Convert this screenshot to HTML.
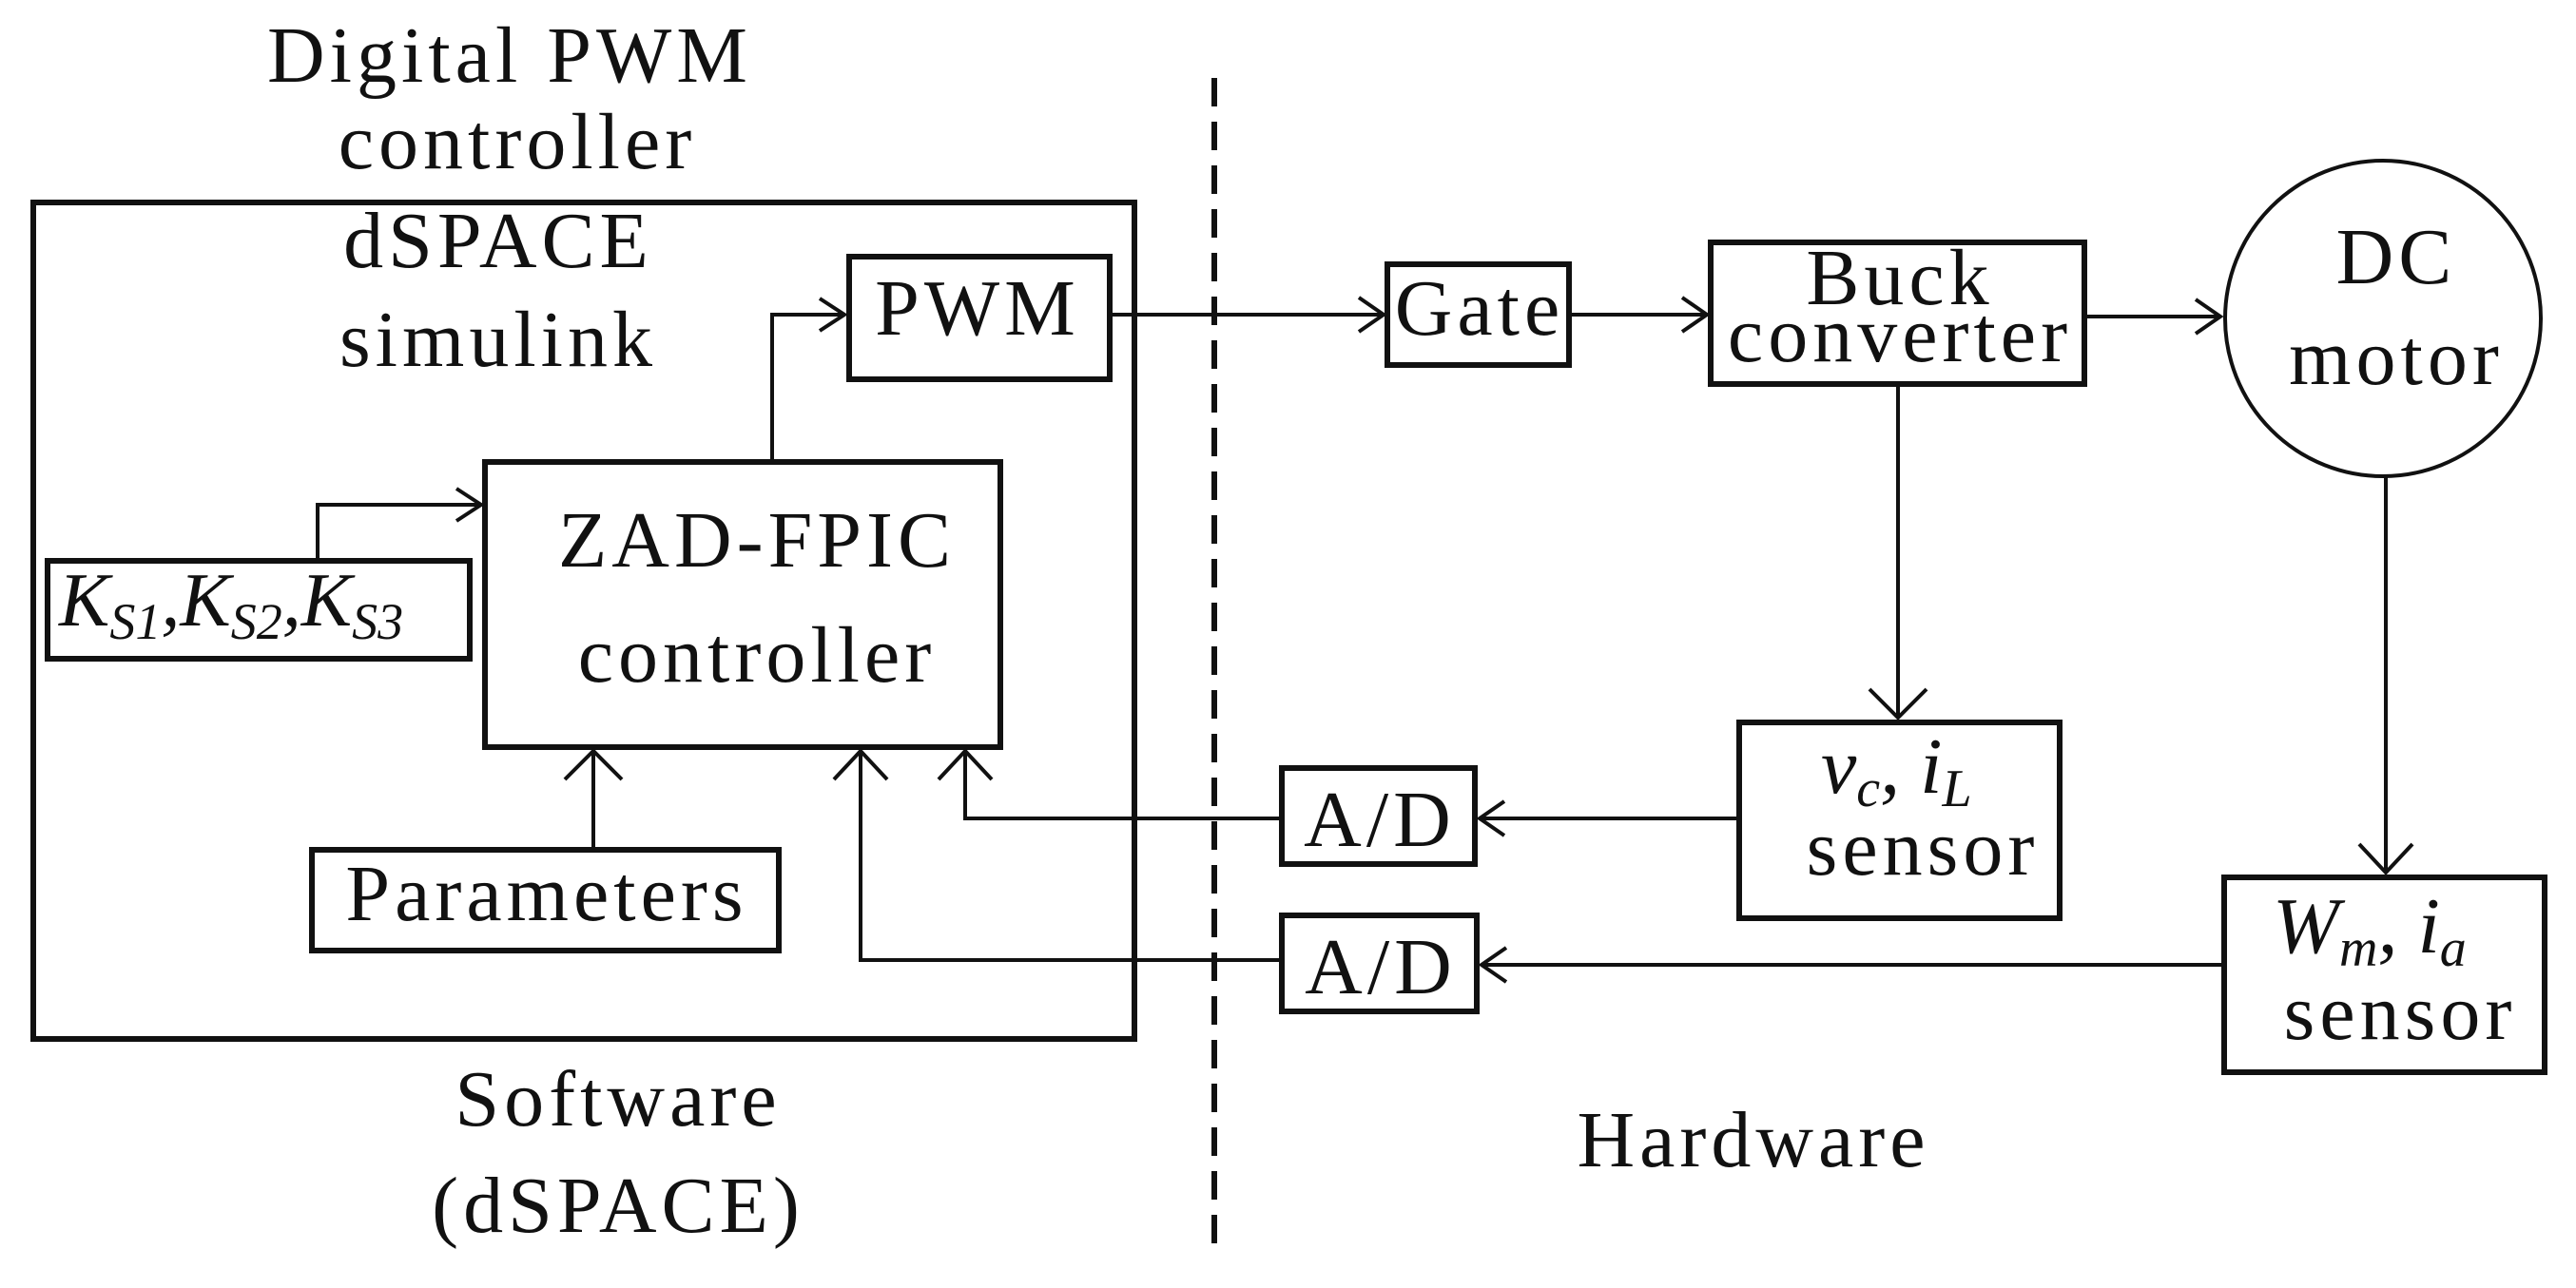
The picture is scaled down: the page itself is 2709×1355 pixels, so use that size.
<!DOCTYPE html>
<html><head><meta charset="utf-8"><style>
html,body{margin:0;padding:0;background:#fff;}
svg{display:block;}
text{font-family:"Liberation Serif",serif;fill:#111;}
</style></head><body>
<svg width="2709" height="1355" viewBox="0 0 2709 1355" xmlns="http://www.w3.org/2000/svg">
<g fill="none" stroke="#111" stroke-width="6">
<rect x="35" y="213" width="1158" height="880"/>
<rect x="893" y="270" width="274" height="129"/>
<rect x="510" y="486" width="542" height="300"/>
<rect x="50" y="590" width="444" height="103"/>
<rect x="328" y="894" width="491" height="106"/>
<rect x="1348" y="808" width="203" height="101"/>
<rect x="1348" y="963" width="205" height="101"/>
<rect x="1459" y="278" width="191" height="106"/>
<rect x="1799" y="255" width="393" height="149"/>
<rect x="1829" y="760" width="337" height="206"/>
<rect x="2339" y="923" width="337" height="205"/>
<circle cx="2506" cy="335" r="166" stroke-width="4"/>
</g>
<line x1="1277" y1="82" x2="1277" y2="1322" stroke="#111" stroke-width="6" stroke-dasharray="30,16"/>
<g fill="none" stroke="#111" stroke-width="4" stroke-linejoin="miter">
<polyline points="334,590 334,531 505,531"/>
<polyline points="480,514 506,531 480,548"/>
<polyline points="812,486 812,331 888,331"/>
<polyline points="862,314 888,331 862,348"/>
<line x1="624" y1="894" x2="624" y2="790"/>
<polyline points="594,820 624,790 654,820"/>
<line x1="1167" y1="331" x2="1455" y2="331"/>
<polyline points="1429,313 1455,331 1429,349"/>
<line x1="1650" y1="331" x2="1795" y2="331"/>
<polyline points="1769,313 1795,331 1769,349"/>
<line x1="2192" y1="333" x2="2335" y2="333"/>
<polyline points="2309,315 2335,333 2309,351"/>
<line x1="1996" y1="404" x2="1996" y2="755"/>
<polyline points="1966,725 1996,755 2026,725"/>
<line x1="2509" y1="501" x2="2509" y2="918"/>
<polyline points="2481,888 2509,918 2537,888"/>
<line x1="1829" y1="861" x2="1556" y2="861"/>
<polyline points="1582,843 1556,861 1582,879"/>
<line x1="2339" y1="1015" x2="1558" y2="1015"/>
<polyline points="1584,997 1558,1015 1584,1033"/>
<polyline points="1348,861 1015,861 1015,790"/>
<polyline points="987,820 1015,790 1043,820"/>
<polyline points="1348,1010 905,1010 905,790"/>
<polyline points="877,820 905,790 933,820"/>
</g>
<g font-size="84" text-anchor="middle" letter-spacing="5">
<text x="536" y="86">Digital PWM</text>
<text x="544" y="177">controller</text>
<text x="524" y="281">dSPACE</text>
<text x="524" y="385">simulink</text>
<text x="1028" y="352">PWM</text>
<text x="796" y="596">ZAD-FPIC</text>
<text x="796" y="717">controller</text>
<text x="575" y="968">Parameters</text>
<text x="650" y="1184">Software</text>
<text x="650" y="1296">(dSPACE)</text>
<text x="1451" y="890">A/D</text>
<text x="1452" y="1045">A/D</text>
<text x="1556" y="352">Gate</text>
<text x="1998" y="320">Buck</text>
<text x="1998" y="380">converter</text>
<text x="2520" y="298">DC</text>
<text x="2520" y="404">motor</text>
<text x="2022" y="920">sensor</text>
<text x="2524" y="1093">sensor</text>
<text x="1844" y="1227">Hardware</text>
</g>
<text x="62" y="658" font-size="80" font-style="italic">K<tspan font-size="54" dy="14">S1</tspan><tspan dy="-14">,K</tspan><tspan font-size="54" dy="14">S2</tspan><tspan dy="-14">,K</tspan><tspan font-size="54" dy="14">S3</tspan></text>
<text x="1915" y="834" font-size="84" font-style="italic">v<tspan font-size="56" dy="14">c</tspan><tspan dy="-14">, i</tspan><tspan font-size="56" dy="14">L</tspan></text>
<text x="2390" y="1002" font-size="84" font-style="italic">W<tspan font-size="56" dy="14">m</tspan><tspan dy="-14">, i</tspan><tspan font-size="56" dy="14">a</tspan></text>
</svg>
</body></html>
